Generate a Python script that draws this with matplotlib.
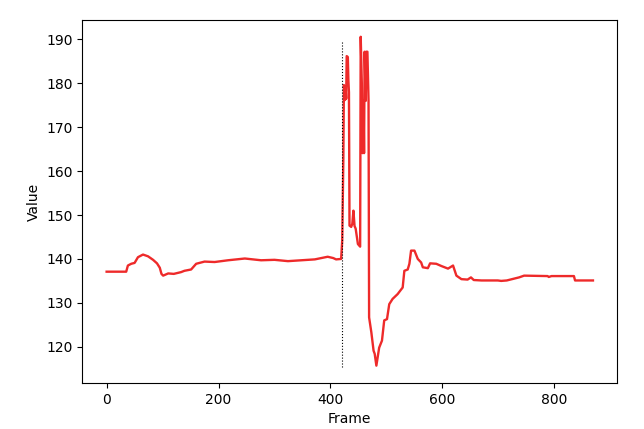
import matplotlib
matplotlib.use("Agg")
import matplotlib.pyplot as plt

frames = [0, 35, 38, 44, 50, 56, 65, 74, 83, 90, 95, 98, 101, 110, 120, 133, 139, 151,
          160, 175, 193, 217, 247, 276, 300, 324, 348, 372, 395, 405, 410, 419,
          421, 423, 424, 426, 427, 428, 429, 431, 432, 433, 434, 437, 439, 441, 443,
          445, 449, 453, 454, 456, 457, 459, 460, 461, 463, 464, 466, 468, 469, 471,
          473, 477, 479, 482, 487, 492, 496, 501, 505, 511, 520, 529, 532, 538, 541,
          544, 550, 556, 562, 565, 574, 578, 589, 598, 610, 619, 625, 634, 645, 651,
          656, 670, 699, 705, 715, 737, 746, 788, 790, 795, 835, 837, 869]
values = [137.1, 137.1, 138.5, 138.9, 139.1, 140.4, 141.0, 140.6, 139.8, 139.0, 138.0,
          136.6, 136.2, 136.7, 136.6, 137.0, 137.3, 137.6, 138.9, 139.4, 139.3, 139.7,
          140.1, 139.7, 139.8, 139.5, 139.7, 139.9, 140.5, 140.2, 139.9, 140.0,
          144.2, 163.0, 179.6, 176.2, 179.0, 176.5, 186.2, 186.0, 180.7, 178.0, 147.6,
          147.3, 148.0, 151.0, 147.5, 146.9, 143.4, 142.8, 190.6, 180.0, 164.1, 176.0,
          164.1, 187.2, 176.0, 187.2, 187.2, 176.0, 126.7, 125.0, 123.3, 119.1, 118.4,
          115.7, 119.8, 121.4, 126.0, 126.3, 129.7, 130.9, 132.0, 133.5, 137.3, 137.6,
          138.9, 141.9, 141.9, 140.0, 139.2, 138.1, 137.9, 139.0, 138.9, 138.4, 137.8,
          138.5, 136.2, 135.4, 135.3, 135.8, 135.2, 135.1, 135.1, 135.0, 135.1, 135.8,
          136.2, 136.1, 135.9, 136.1, 136.1, 135.1, 135.1]

event_frame = 421
event_ymin = 115.5
event_ymax = 189.6

fig, ax = plt.subplots(figsize=(6.44, 4.29), dpi=100)
fig.subplots_adjust(left=0.1278, right=0.9585, top=0.9527, bottom=0.1072)
ax.plot(frames, values, color='#ee2a2a', lw=1.7)
ax.vlines(event_frame, event_ymin, event_ymax, colors='k', linestyles=':', lw=0.8)
ax.set_xlabel("Frame")
ax.set_ylabel("Value")
fig.savefig("out.png", dpi=100)
